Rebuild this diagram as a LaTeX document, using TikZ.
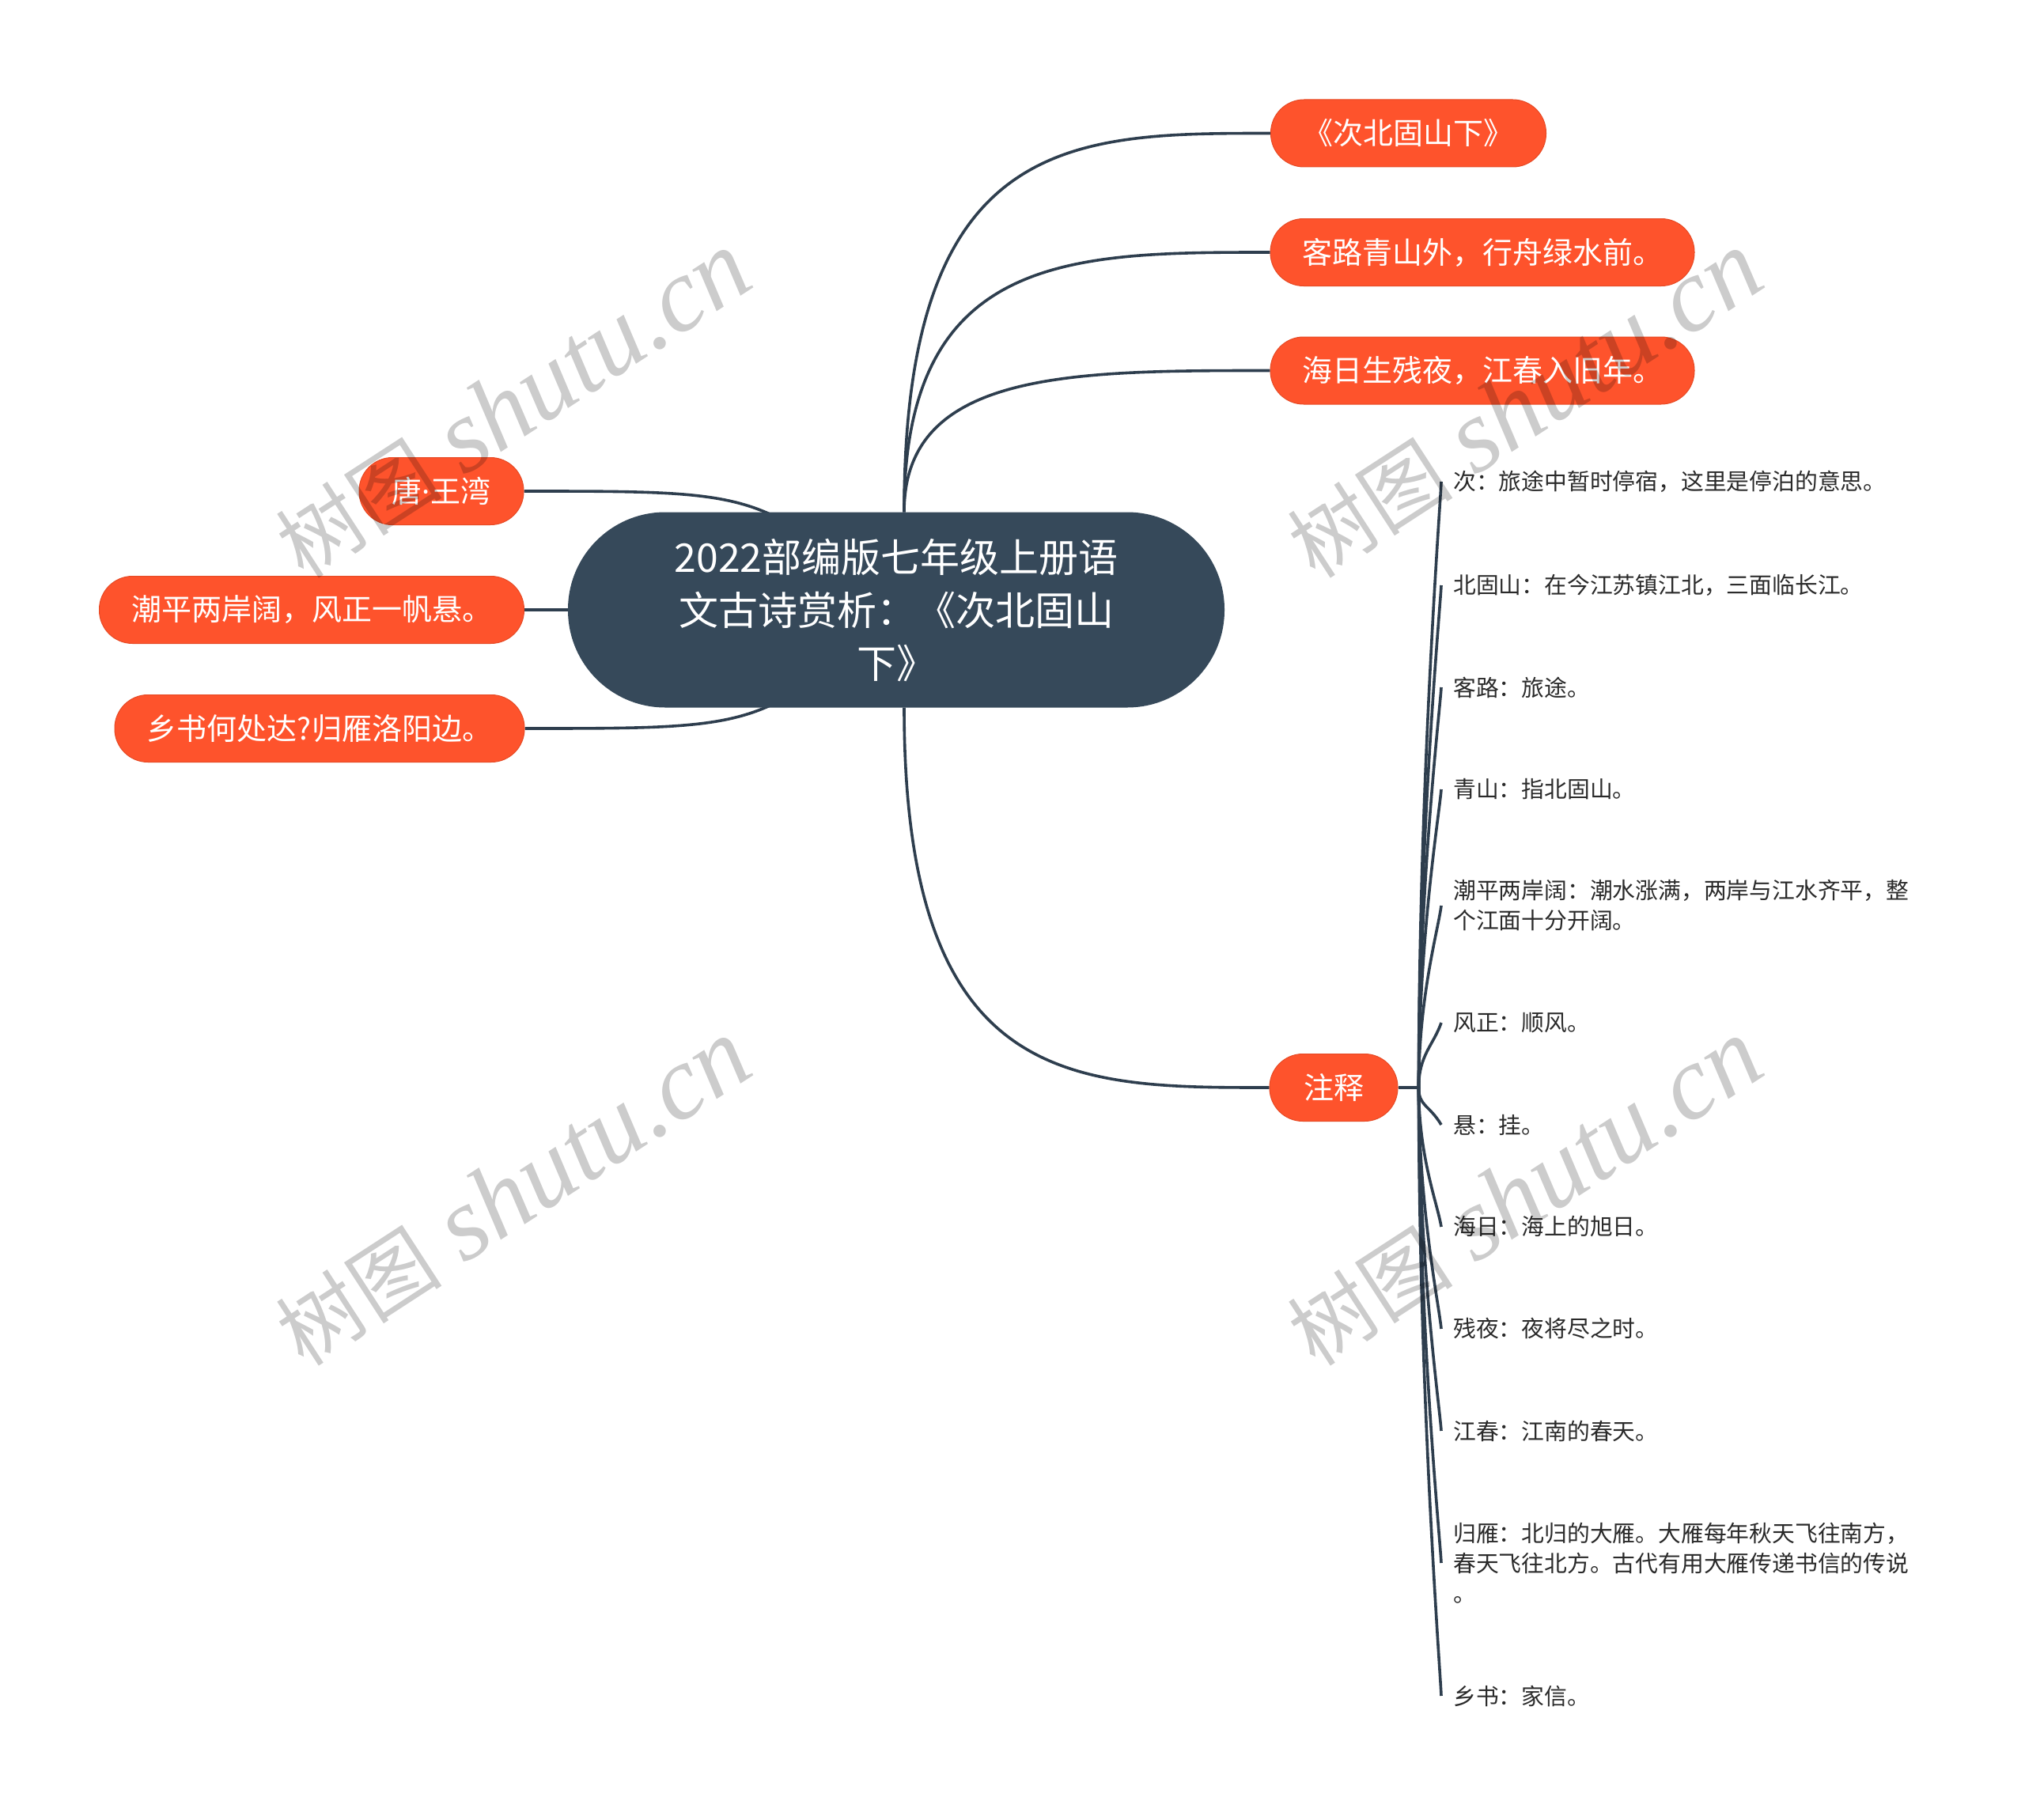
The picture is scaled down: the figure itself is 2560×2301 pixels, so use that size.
\documentclass[tikz,border=0pt]{standalone}
\usepackage{fontspec}
\setmainfont{Noto Sans CJK SC}
\newfontfamily\wmserif{Liberation Serif}
\newfontfamily\latinfont{Noto Sans}
\usetikzlibrary{backgrounds,calc}
\definecolor{orng}{HTML}{FE532C}
\definecolor{orngb}{HTML}{E64A25}
\definecolor{slate}{HTML}{36495A}
\definecolor{linec}{HTML}{2E3E4E}
\definecolor{notec}{HTML}{2A2A2A}
\begin{document}
\begin{tikzpicture}[x=1pt,y=-1pt,
  topic/.style={rectangle, rounded corners=42pt, fill=orng, draw=orngb, line width=1pt,
    minimum height=85pt, inner xsep=0pt, inner ysep=0pt, text=white,
    font=\fontsize{38}{46}\selectfont},
  central/.style={rectangle, rounded corners=123pt, fill=slate, minimum width=830pt,
    minimum height=247pt, text=white, align=center, font=\fontsize{50}{67}\selectfont},
  note/.style={anchor=west, inner xsep=15pt, inner ysep=0pt, align=left, text=notec,
    font=\fontsize{28.8}{38}\selectfont},
  conn/.style={draw=linec, line width=3.6pt},
  wm/.style={rotate=33, text=black, text opacity=0.2, inner sep=0pt}
]
\useasboundingbox (0,0) rectangle (2560,2301);

% central and main topics
\node[central] (c) at (1133,771) {2022部编版七年级上册语\\文古诗赏析：《次北固山\\下》};
\node[topic, minimum width=348pt] (t1) at (1780.5,168.5) {《次北固山下》};
\node[topic, minimum width=536pt] (t2) at (1874,319) {客路青山外，行舟绿水前。};
\node[topic, minimum width=536pt] (t3) at (1874,468.5) {海日生残夜，江春入旧年。};
\node[topic, minimum width=208pt] (l1) at (558,621) {唐{\latinfont ·}王湾};
\node[topic, minimum width=537pt] (l2) at (394,771) {潮平两岸阔，风正一帆悬。};
\node[topic, minimum width=518pt] (l3) at (404,921) {乡书何处达?归雁洛阳边。};
\node[topic, minimum width=162pt] (zs) at (1686,1375) {注释};

% notes
\node[note] (a1) at (1822,609) {次：旅途中暂时停宿，这里是停泊的意思。};
\node[note] (a2) at (1822,740) {北固山：在今江苏镇江北，三面临长江。};
\node[note] (a3) at (1822,869) {客路：旅途。};
\node[note] (a4) at (1822,998) {青山：指北固山。};
\node[note] (a5) at (1822,1145) {潮平两岸阔：潮水涨满，两岸与江水齐平，整\\个江面十分开阔。};
\node[note] (a6) at (1822,1293) {风正：顺风。};
\node[note] (a7) at (1822,1422) {悬：挂。};
\node[note] (a8) at (1822,1551) {海日：海上的旭日。};
\node[note] (a9) at (1822,1680) {残夜：夜将尽之时。};
\node[note] (a10) at (1822,1809) {江春：江南的春天。};
\node[note] (a11) at (1822,1976) {归雁：北归的大雁。大雁每年秋天飞往南方，\\春天飞往北方。古代有用大雁传递书信的传说\\。};
\node[note] (a12) at (1822,2144) {乡书：家信。};

\coordinate (ctop) at ([xshift=10pt]c.north);
\coordinate (cbot) at ([xshift=10pt]c.south);
\coordinate (cl) at ([xshift=-170pt]c.center);
\coordinate (tr) at ([xshift=26pt]zs.east);

\begin{scope}[on background layer]
  \fill[white] (0,0) rectangle (2560,2301);
  \foreach \n in {t1,t2,t3}{
    \draw[conn] (ctop) .. controls (ctop |- \n.west) and ([xshift=-250pt]\n.west) .. (\n.west);
  }
  \draw[conn] (cbot) .. controls (cbot |- zs.west) and ([xshift=-250pt]zs.west) .. (zs.west);
  \draw[conn] (c.center) .. controls (cl |- l1.east) and (cl |- l1.east) .. (l1.east);
  \draw[conn] (c.center) -- (l2.east);
  \draw[conn] (c.center) .. controls (cl |- l3.east) and (cl |- l3.east) .. (l3.east);
  \draw[conn] (zs.east) -- (tr);
  \foreach \n in {a1,a2,a3,a4,a5,a6,a7,a8,a9,a10,a11,a12}{
    \draw[conn] (tr) .. controls ($(tr)!0.5!(tr |- \n.west)$) and ($(\n.west)!30pt!(tr)$) .. (\n.west);
  }
\end{scope}

% watermarks
\foreach \p [count=\i] in {(649,512),(1927,512),(649,1508),(1927,1508)}{
  \node[wm] (w\i) at \p {\fontsize{105}{105}\selectfont 树图\hspace{30pt}{\wmserif\itshape\fontsize{132}{132}\selectfont shutu.cn}};
}
\end{tikzpicture}
\end{document}
